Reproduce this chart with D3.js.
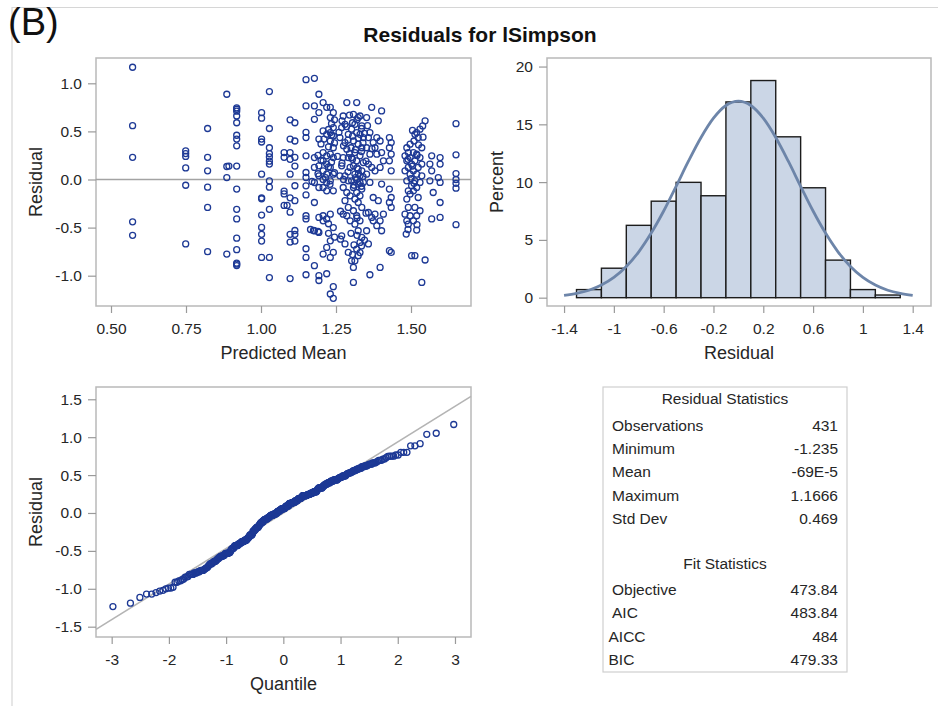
<!DOCTYPE html>
<html>
<head>
<meta charset="utf-8">
<script src="https://cdn.jsdelivr.net/npm/d3@7"></script>
<style>
  body { margin: 0; background: #fff; }
  svg text { font-family: "Liberation Sans", Arial, sans-serif; }
</style>
</head>
<body>
<svg id="fig" width="938" height="706"></svg>
<script>
// ---- Residuals grouped by predicted mean: [predicted mean, [residuals]] ----
const fitGroups = [
  [0.572, [1.167, 0.56, 0.23, -0.44, -0.58]],
  [0.749, [0.298, 0.27, 0.24, 0.12, -0.06, -0.67]],
  [0.822, [0.53, 0.23, 0.09, -0.08, -0.29, -0.75]],
  [0.886, [0.886, 0.135, 0.02, -0.775]],
  [0.893, [0.14]],
  [0.919, [0.745, 0.73, 0.71, 0.66, 0.59, 0.46, 0.42, 0.35, 0.14, -0.10, -0.31, -0.41, -0.61, -0.73, -0.87, -0.88, -0.895]],
  [1.002, [0.695, 0.637, 0.42, 0.39, 0.055, -0.19, -0.20, -0.37, -0.498, -0.57, -0.64, -0.81]],
  [1.028, [0.914, 0.53, 0.33, 0.27, 0.235, 0.19, 0.16, -0.015, -0.08, -0.31, -0.81, -1.02]],
  [1.077, [0.28, 0.23, -0.12, -0.15, -0.27]],
  [1.087, [-0.27]],
  [1.097, [0.62, 0.42, 0.28, 0.21, 0.055, -0.19, -0.34, -0.57, -0.65, -1.03]],
  [1.113, [0.59, 0.40, 0.23, 0.14, -0.065, -0.22, -0.53, -0.57, -0.64]],
  [1.15, [1.038, 0.765, 0.49, 0.436, 0.246, 0.073, 0.021, -0.066, -0.16, -0.377, -0.41, -0.72, -0.81, -0.99]],
  [1.165, [-0.52]],
  [1.17, [-0.02]],
  [1.175, [-0.53]],
  [1.178, [1.052, 0.765, 0.626, 0.228, 0.125, -0.031, -0.239, -0.533, -0.896]],
  [1.19, [-0.54, 0.06, 0.25]],
  [1.193, [0.886, 0.696, 0.42, 0.142, 0.038, -0.083, -0.394, -0.55, -1.0, -1.05]],
  [1.2, [0.2, 0.37]],
  [1.207, [0.80, 0.505, 0.28, 0.194, 0.09, 0.0, -0.083, -0.377, -0.43, -0.775]],
  [1.21, [0.42]],
  [1.215, [0.02]],
  [1.219, [0.75, 0.47, 0.246, 0.16, 0.055, -0.03, -0.118, -0.41, -0.706, -0.98]],
  [1.225, [-0.56, -0.46, 0.13, 0.34, 0.52]],
  [1.23, [-0.05]],
  [1.231, [0.75, 0.644, 0.488, 0.40, 0.263, 0.125, -0.014, -0.36, -0.637, -0.81, -1.19]],
  [1.235, [0.18, 0.46, 0.58]],
  [1.241, [0.695, 0.54, 0.453, 0.33, 0.228, 0.055, -0.118, -0.50, -0.758, -1.114, -1.235]],
  [1.245, [-0.6, 0.07, 0.38, 0.62]],
  [1.255, [0.24]],
  [1.26, [0.49]],
  [1.263, [0.436, 0.038]],
  [1.265, [-0.62, -0.33]],
  [1.269, [0.54, 0.142, -0.585]],
  [1.27, [0.17, 0.61]],
  [1.274, [0.66, 0.228, -0.083, -0.36]],
  [1.275, [0.0, 0.35]],
  [1.28, [0.574, 0.384, 0.038, -0.22, -0.67]],
  [1.285, [0.55]],
  [1.286, [0.80, 0.315, -0.135, -0.377]],
  [1.29, [0.08, 0.41]],
  [1.291, [0.47, 0.228, -0.014, -0.29, -0.758]],
  [1.295, [0.27, 0.67]],
  [1.297, [0.125, -0.17, -0.43]],
  [1.3, [-0.56, 0.33]],
  [1.302, [-0.845, 0.523, 0.228, -0.014]],
  [1.305, [-0.78, 0.21, 0.45, 0.59]],
  [1.308, [-1.07, 0.678, 0.40, 0.142, -0.083, -0.325, -0.914]],
  [1.31, [-0.68, -0.06]],
  [1.313, [0.574, 0.28, 0.055, -0.204, -0.464, -0.845]],
  [1.315, [0.02, 0.31]],
  [1.319, [0.80, 0.488, 0.194, 0.0, -0.135, -0.377, -0.723]],
  [1.32, [-0.58, -0.40, 0.12, 0.62]],
  [1.324, [0.644, 0.367, 0.107, -0.048, -0.239, -0.533, -0.792]],
  [1.325, [0.06, 0.43]],
  [1.33, [0.66, 0.47, 0.246, 0.038, -0.17, -0.43, -0.654, -0.76, -0.03]],
  [1.335, [-0.69, -0.07, 0.29, 0.53]],
  [1.336, [0.557, 0.33, 0.09, -0.10, -0.29, -0.602]],
  [1.34, [0.03, 0.38]],
  [1.341, [0.436, 0.176, -0.03]],
  [1.345, [-0.63, 0.48]],
  [1.35, [-0.35, 0.19]],
  [1.352, [0.644, 0.33, 0.055, -0.533]],
  [1.355, [0.56]],
  [1.358, [0.436, 0.16, -0.343, -0.67]],
  [1.363, [0.488, 0.263, -0.03, -0.99]],
  [1.369, [0.75, 0.125, -0.394]],
  [1.37, [0.32]],
  [1.374, [0.384, -0.187, -0.43]],
  [1.38, [0.33, 0.09, -0.36]],
  [1.386, [0.436, 0.263, -0.48]],
  [1.391, [0.61, -0.22]],
  [1.397, [0.40, 0.125, -0.43, -0.914]],
  [1.402, [0.713, 0.28, -0.048, -0.533]],
  [1.408, [0.194, -0.36]],
  [1.428, [0.436, 0.33, 0.194, -0.10, -0.239, -0.74]],
  [1.434, [0.384, 0.263, 0.09, -0.187, -0.29, -0.758]],
  [1.48, [0.246, 0.09, -0.36]],
  [1.484, [-0.567]],
  [1.486, [0.33, 0.194, -0.014, -0.204, -0.43]],
  [1.49, [-0.52, 0.21]],
  [1.491, [0.28, 0.125, -0.118, -0.29, -0.464]],
  [1.497, [0.367, 0.228, 0.055, -0.152, -0.377]],
  [1.5, [0.01]],
  [1.502, [0.16, -0.066, -0.792]],
  [1.505, [0.14, 0.51]],
  [1.508, [0.28, 0.09, -0.118, -0.43]],
  [1.51, [-0.04, 0.40]],
  [1.513, [0.47, 0.194, -0.014, -0.29, -0.792]],
  [1.519, [0.488, 0.263, 0.055, -0.083, -0.377, -0.526]],
  [1.52, [-0.47, 0.25]],
  [1.524, [0.436, 0.125, -0.187]],
  [1.525, [0.36]],
  [1.53, [0.523, 0.228, -0.03, -0.325]],
  [1.536, [0.33, 0.16, 0.038, -1.07]],
  [1.539, [0.557]],
  [1.54, [0.44]],
  [1.547, [0.61, -0.837]],
  [1.563, [0.16, -0.014]],
  [1.569, [0.246, 0.09, -0.41]],
  [1.574, [-0.135]],
  [1.591, [0.02]],
  [1.597, [0.228, 0.16, -0.03, -0.239, -0.394]],
  [1.65, [0.58, 0.256, 0.062, 0.0, -0.04, -0.09, -0.47]]
];

// ---- Histogram of residuals (bin midpoints, percent of observations) ----
const binMids = [-1.2, -1.0, -0.8, -0.6, -0.4, -0.2, 0.0, 0.2, 0.4, 0.6, 0.8, 1.0, 1.2];
const binPercent = [0.70, 2.55, 6.26, 8.35, 9.98, 8.82, 16.94, 18.79, 13.92, 9.51, 3.25, 0.70, 0.23];
const binWidth = 0.2;

// ---- Normal density overlay (percent scale) ----
const densityX = [-1.4, -1.3, -1.2, -1.1, -1.0, -0.9, -0.8, -0.7, -0.6, -0.5, -0.4, -0.3, -0.2, -0.1, 0.0,
                  0.1, 0.2, 0.3, 0.4, 0.5, 0.6, 0.7, 0.8, 0.9, 1.0, 1.1, 1.2, 1.3, 1.4];
const densityPct = [0.20, 0.37, 0.64, 1.09, 1.75, 2.70, 3.97, 5.59, 7.50, 9.64, 11.83, 13.86, 15.53, 16.63, 17.01,
                    16.63, 15.53, 13.86, 11.83, 9.64, 7.50, 5.59, 3.97, 2.70, 1.75, 1.09, 0.64, 0.37, 0.20];

// ---- Tick labels ----
const scatterXTicks = [0.5, 0.75, 1.0, 1.25, 1.5];
const scatterYTicks = [-1.0, -0.5, 0.0, 0.5, 1.0];
const histXTicks = [-1.4, -1, -0.6, -0.2, 0.2, 0.6, 1, 1.4];
const histYTicks = [0, 5, 10, 15, 20];
const qqXTicks = [-3, -2, -1, 0, 1, 2, 3];
const qqYTicks = [-1.5, -1.0, -0.5, 0.0, 0.5, 1.0, 1.5];

// ---- Summary tables ----
const residualStatLabels = ["Observations", "Minimum", "Mean", "Maximum", "Std Dev"];
const residualStatValues = ["431", "-1.235", "-69E-5", "1.1666", "0.469"];
const fitStatLabels = ["Objective", "AIC", "AICC", "BIC"];
const fitStatValues = ["473.84", "483.84", "484", "479.33"];
const residualMean = -69e-5;
const residualSd = 0.469;

// ------------------------------------------------------------------
const svg = d3.select("#fig");
const MARK = "#1d3995";
const FRAME = "#b9b9b9";
const TICK = "#9a9a9a";
const TXT = "#262626";

const residualPoints = fitGroups.flatMap(([m, rs]) => rs.map(r => ({ m, r })));

// outer figure border
svg.append("line").attr("x1", 12).attr("x2", 938).attr("y1", 7.5).attr("y2", 7.5)
  .attr("stroke", "#d6d6d6").attr("stroke-width", 1.2);
svg.append("line").attr("x1", 12).attr("x2", 12).attr("y1", 7).attr("y2", 706)
  .attr("stroke", "#d6d6d6").attr("stroke-width", 1.2);

svg.append("text").attr("x", 8).attr("y", 35).attr("font-size", 38).attr("fill", "#111").text("(B)");
svg.append("text").attr("x", 480).attr("y", 42).attr("text-anchor", "middle")
  .attr("font-size", 21).attr("font-weight", "bold").attr("fill", "#111").text("Residuals for lSimpson");

function panel(box, x, y, xTicks, yTicks, xFmt, yFmt, xTitle, yTitle, yTitleX) {
  const g = svg.append("g");
  g.append("rect").attr("x", box.x0).attr("y", box.y0)
    .attr("width", box.x1 - box.x0).attr("height", box.y1 - box.y0)
    .attr("fill", "#fff").attr("stroke", FRAME).attr("stroke-width", 1.5);
  const ax = g.append("g").attr("transform", `translate(0,${box.y1})`)
    .call(d3.axisBottom(x).tickValues(xTicks).tickFormat(xFmt).tickSize(7).tickPadding(10));
  const ay = g.append("g").attr("transform", `translate(${box.x0},0)`)
    .call(d3.axisLeft(y).tickValues(yTicks).tickFormat(yFmt).tickSize(8).tickPadding(6));
  [ax, ay].forEach(a => {
    a.select(".domain").remove();
    a.selectAll(".tick line").attr("stroke", TICK).attr("stroke-width", 1.2);
    a.selectAll(".tick text").attr("fill", TXT).attr("font-size", 15.5)
      .attr("font-family", '"Liberation Sans", Arial, sans-serif');
  });
  g.append("text").attr("x", (box.x0 + box.x1) / 2).attr("y", box.y1 + 53)
    .attr("text-anchor", "middle").attr("font-size", 18).attr("fill", TXT).text(xTitle);
  g.append("text")
    .attr("transform", `translate(${yTitleX},${(box.y0 + box.y1) / 2}) rotate(-90)`)
    .attr("text-anchor", "middle").attr("font-size", 18).attr("fill", TXT).text(yTitle);
  return g;
}

// ---- Panel 1: residual vs predicted mean ----
{
  const box = { x0: 96, x1: 471, y0: 58, y1: 306 };
  const x = d3.scaleLinear().domain([0.45, 1.70]).range([box.x0, box.x1]);
  const y = d3.scaleLinear().domain([-1.315, 1.263]).range([box.y1, box.y0]);
  const g = panel(box, x, y, scatterXTicks, scatterYTicks, d => d.toFixed(2), d => d.toFixed(1),
    "Predicted Mean", "Residual", 42);
  g.append("line").attr("x1", box.x0).attr("x2", box.x1).attr("y1", y(0)).attr("y2", y(0))
    .attr("stroke", "#a3a3a3").attr("stroke-width", 1.6);
  g.append("g").selectAll("circle").data(residualPoints).join("circle")
    .attr("cx", d => x(d.m)).attr("cy", d => y(d.r)).attr("r", 3)
    .attr("fill", "none").attr("stroke", MARK).attr("stroke-width", 1.3);
}

// ---- Panel 2: histogram with normal density ----
{
  const box = { x0: 547, x1: 931, y0: 58, y1: 306 };
  const x = d3.scaleLinear().domain([-1.537, 1.547]).range([box.x0, box.x1]);
  const y = d3.scaleLinear().domain([-0.72, 20.74]).range([box.y1, box.y0]);
  const g = panel(box, x, y, histXTicks, histYTicks, d => String(d), d => String(d),
    "Residual", "Percent", 503);
  g.append("g").selectAll("rect").data(binMids).join("rect")
    .attr("x", d => x(d - binWidth / 2)).attr("width", d => x(d + binWidth / 2) - x(d - binWidth / 2))
    .attr("y", (d, i) => y(binPercent[i])).attr("height", (d, i) => y(0) - y(binPercent[i]))
    .attr("fill", "#cbd6e6").attr("stroke", "#1c1c1c").attr("stroke-width", 1.4);
  const line = d3.line().x((d, i) => x(densityX[i])).y(d => y(d)).curve(d3.curveMonotoneX);
  g.append("path").attr("d", line(densityPct)).attr("fill", "none")
    .attr("stroke", "#6d85a9").attr("stroke-width", 2.8).attr("stroke-linejoin", "round");
}

// ---- Panel 3: normal quantile plot ----
function probit(p) {
  const a = [-3.969683028665376e+01, 2.209460984245205e+02, -2.759285104469687e+02, 1.383577518672690e+02, -3.066479806614716e+01, 2.506628277459239e+00];
  const b = [-5.447609879822406e+01, 1.615858368580409e+02, -1.556989798598866e+02, 6.680131188771972e+01, -1.328068155288572e+01];
  const c = [-7.784894002430293e-03, -3.223964580411365e-01, -2.400758277161838e+00, -2.549732539343734e+00, 4.374664141464968e+00, 2.938163982698783e+00];
  const e = [7.784695709041462e-03, 3.224671290700398e-01, 2.445134137142996e+00, 3.754408661907416e+00];
  const lo = 0.02425;
  if (p < lo || p > 1 - lo) {
    const q = Math.sqrt(-2 * Math.log(p < lo ? p : 1 - p));
    const v = (((((c[0] * q + c[1]) * q + c[2]) * q + c[3]) * q + c[4]) * q + c[5]) /
              ((((e[0] * q + e[1]) * q + e[2]) * q + e[3]) * q + 1);
    return p < lo ? v : -v;
  }
  const q = p - 0.5, r = q * q;
  return (((((a[0] * r + a[1]) * r + a[2]) * r + a[3]) * r + a[4]) * r + a[5]) * q /
         (((((b[0] * r + b[1]) * r + b[2]) * r + b[3]) * r + b[4]) * r + 1);
}
{
  const box = { x0: 96, x1: 471, y0: 387, y1: 637 };
  const x = d3.scaleLinear().domain([-3.274, 3.28]).range([box.x0, box.x1]);
  const y = d3.scaleLinear().domain([-1.636, 1.662]).range([box.y1, box.y0]);
  const g = panel(box, x, y, qqXTicks, qqYTicks, d => String(d), d => d.toFixed(1),
    "Quantile", "Residual", 42);
  const sorted = residualPoints.map(d => d.r).sort(d3.ascending);
  const n = sorted.length;
  const qq = sorted.map((r, i) => ({ q: probit((i + 1 - 0.375) / (n + 0.25)), r }));
  const [qa, qb] = x.domain();
  g.append("line").attr("x1", x(qa)).attr("x2", x(qb))
    .attr("y1", y(residualMean + residualSd * qa)).attr("y2", y(residualMean + residualSd * qb))
    .attr("stroke", "#b4b4b4").attr("stroke-width", 1.6);
  g.append("g").selectAll("circle").data(qq).join("circle")
    .attr("cx", d => x(d.q)).attr("cy", d => y(d.r)).attr("r", 3)
    .attr("fill", "none").attr("stroke", MARK).attr("stroke-width", 1.3);
}

// ---- Panel 4: statistics table ----
{
  const g = svg.append("g");
  g.append("rect").attr("x", 603).attr("y", 387).attr("width", 244).attr("height", 285)
    .attr("fill", "#fff").attr("stroke", "#cfcfcf").attr("stroke-width", 1.2);
  const fs = 15.5, step = 23.35;
  g.append("text").attr("x", 725).attr("y", 404).attr("text-anchor", "middle")
    .attr("font-size", fs).attr("fill", TXT).text("Residual Statistics");
  residualStatLabels.forEach((lab, i) => {
    g.append("text").attr("x", 612).attr("y", 430.5 + i * step).attr("font-size", fs).attr("fill", TXT).text(lab);
    g.append("text").attr("x", 838).attr("y", 430.5 + i * step).attr("text-anchor", "end")
      .attr("font-size", fs).attr("fill", TXT).text(residualStatValues[i]);
  });
  g.append("text").attr("x", 725).attr("y", 569).attr("text-anchor", "middle")
    .attr("font-size", fs).attr("fill", TXT).text("Fit Statistics");
  fitStatLabels.forEach((lab, i) => {
    const lx = i >= 2 ? 608.5 : 612;
    g.append("text").attr("x", lx).attr("y", 595 + i * step).attr("font-size", fs).attr("fill", TXT).text(lab);
    g.append("text").attr("x", 838).attr("y", 595 + i * step).attr("text-anchor", "end")
      .attr("font-size", fs).attr("fill", TXT).text(fitStatValues[i]);
  });
}
</script>
</body>
</html>
